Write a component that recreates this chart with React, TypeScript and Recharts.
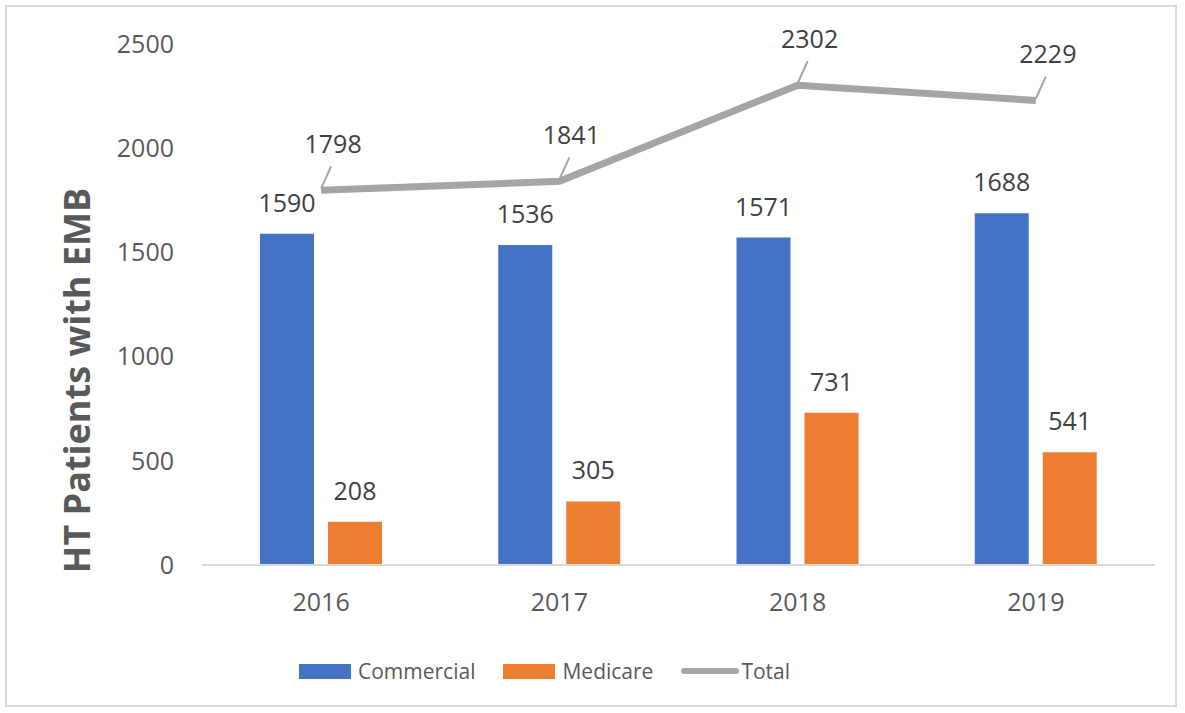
import React from 'react';
import {
  ComposedChart,
  Bar,
  Line,
  XAxis,
  YAxis,
  LabelList,
  Label,
} from 'recharts';

const years = ['2016', '2017', '2018', '2019'];
const commercial = [1590, 1536, 1571, 1688];
const medicare = [208, 305, 731, 541];
const total = [1798, 1841, 2302, 2229];
const yTicks = [0, 500, 1000, 1500, 2000, 2500];

const data = years.map((year, i) => ({
  year,
  commercial: commercial[i],
  medicare: medicare[i],
  total: total[i],
}));

const FONT = '"Open Sans", sans-serif';
const BLUE = '#4472C4';
const ORANGE = '#ED7D31';
const GRAY = '#A5A5A5';

// total labels sit up and to the right, with a short leader line
const TotalLabel = (props: any) => {
  const { x, y, value } = props;
  return (
    <g>
      <line x1={x} y1={y - 2} x2={x + 10} y2={y - 24} stroke="#A5A5A5" strokeWidth={2} />
      <text
        x={x + 12}
        y={y - 37}
        textAnchor="middle"
        fill="#404040"
        fontSize={25}
        fontFamily={FONT}
      >
        {value}
      </text>
    </g>
  );
};

const YTitle = (props: any) => {
  const { viewBox } = props;
  const cx = viewBox.x - 46;
  const cy = viewBox.y + viewBox.height / 2 + 76;
  return (
    <text
      x={cx}
      y={cy}
      transform={`rotate(-90, ${cx}, ${cy})`}
      textAnchor="middle"
      dominantBaseline="central"
      fill="#595959"
      fontSize={36}
      fontWeight="bold"
      fontFamily={FONT}
    >
      HT Patients with EMB
    </text>
  );
};

const legendItems = [
  { name: 'Commercial', color: BLUE, type: 'rect' },
  { name: 'Medicare', color: ORANGE, type: 'rect' },
  { name: 'Total', color: GRAY, type: 'line' },
];

const App = () => (
  <div
    style={{
      position: 'absolute',
      left: 5,
      top: 5,
      width: 1172,
      height: 702,
      border: '2px solid #d9d9d9',
      boxSizing: 'border-box',
      background: '#fff',
      fontFamily: FONT,
    }}
  >
    <ComposedChart
      width={1168}
      height={698}
      data={data}
      margin={{ top: 37, right: 20, left: 115, bottom: 80 }}
      barSize={54}
      barGap={14}
    >
      <XAxis
        dataKey="year"
        tickLine={false}
        axisLine={{ stroke: '#d9d9d9', strokeWidth: 2 }}
        tick={{ fill: '#595959', fontSize: 25, fontFamily: FONT }}
        tickMargin={22}
        height={60}
      />
      <YAxis
        domain={[0, 2500]}
        ticks={yTicks}
        tickLine={false}
        axisLine={false}
        tick={{ fill: '#595959', fontSize: 25, fontFamily: FONT }}
        tickMargin={22}
        width={80}
      >
        <Label content={<YTitle />} />
      </YAxis>
      <Bar dataKey="commercial" name="Commercial" fill={BLUE} isAnimationActive={false}>
        <LabelList
          dataKey="commercial"
          position="top"
          offset={22}
          fill="#404040"
          fontSize={25}
          fontFamily={FONT}
        />
      </Bar>
      <Bar dataKey="medicare" name="Medicare" fill={ORANGE} isAnimationActive={false}>
        <LabelList
          dataKey="medicare"
          position="top"
          offset={22}
          fill="#404040"
          fontSize={25}
          fontFamily={FONT}
        />
      </Bar>
      <Line
        type="linear"
        dataKey="total"
        name="Total"
        stroke={GRAY}
        strokeWidth={7}
        dot={false}
        isAnimationActive={false}
      >
        <LabelList dataKey="total" content={<TotalLabel />} />
      </Line>
    </ComposedChart>
    <div
      style={{
        position: 'absolute',
        left: 292,
        top: 650,
        display: 'flex',
        alignItems: 'center',
        color: '#595959',
        fontSize: 21,
      }}
    >
      {legendItems.map((item) => (
        <div
          key={item.name}
          style={{ display: 'flex', alignItems: 'center', marginRight: 28 }}
        >
          {item.type === 'rect' ? (
            <div style={{ width: 52, height: 15, background: item.color, marginRight: 7 }} />
          ) : (
            <div
              style={{
                width: 58,
                height: 6,
                borderRadius: 3,
                background: item.color,
                marginRight: 2,
              }}
            />
          )}
          <span>{item.name}</span>
        </div>
      ))}
    </div>
  </div>
);

export default App;
